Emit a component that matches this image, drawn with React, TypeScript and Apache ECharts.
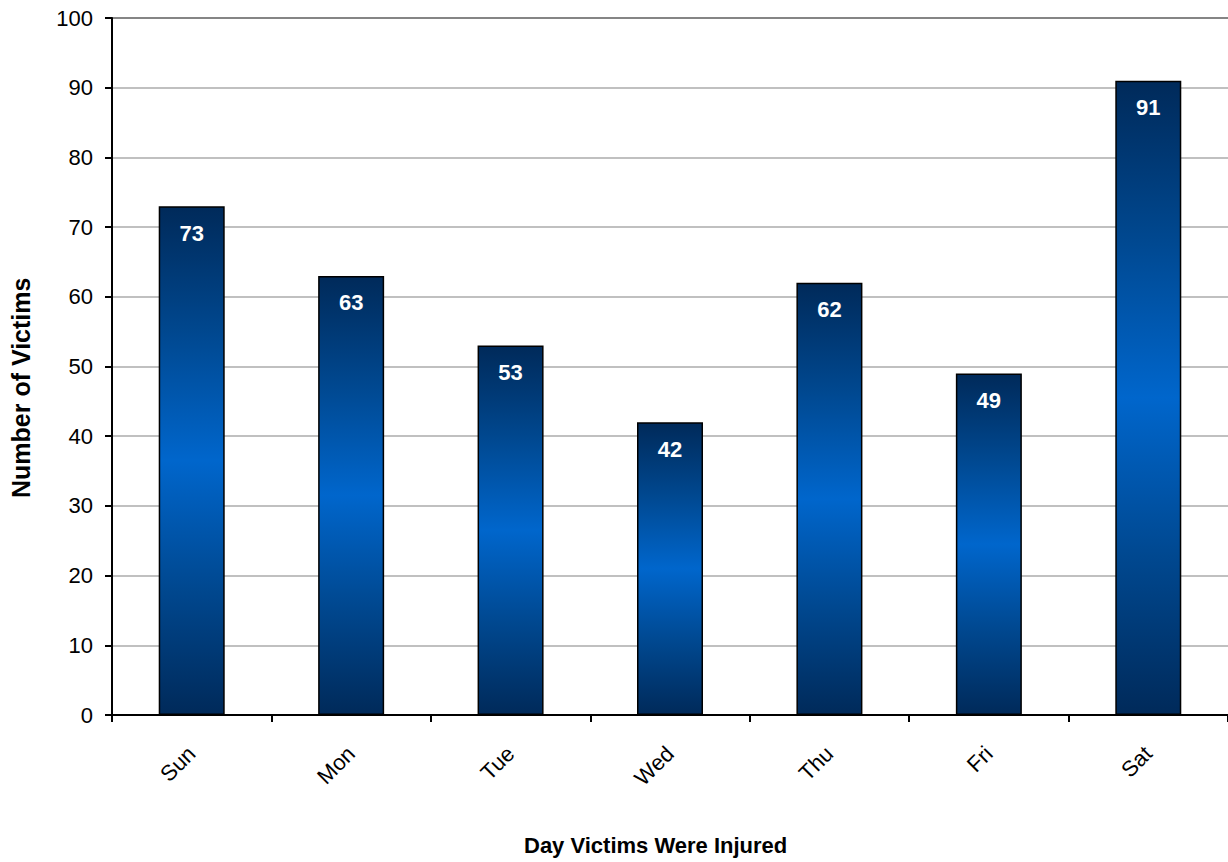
import React, { useEffect, useRef } from "react";
import * as echarts from "echarts";

const categories = ["Sun", "Mon", "Tue", "Wed", "Thu", "Fri", "Sat"];
const victims = [73, 63, 53, 42, 62, 49, 91];
const yTicks = { min: 0, max: 100, interval: 10 };
const xTitle = "Day Victims Were Injured";
const yTitle = "Number of Victims";

const FONT = "'Liberation Sans', Arial, sans-serif";

export default function App() {
  const ref = useRef<HTMLDivElement>(null);
  useEffect(() => {
    if (!ref.current) return;
    const chart = echarts.init(ref.current, null, { renderer: "svg" });
    const gradient = new echarts.graphic.LinearGradient(0, 0, 0, 1, [
      { offset: 0, color: "#002a5a" },
      { offset: 0.25, color: "#004890" },
      { offset: 0.5, color: "#0066cc" },
      { offset: 0.75, color: "#004890" },
      { offset: 1, color: "#002a5a" },
    ]);
    const splitColors = [
      "#c0c0c0", "#c0c0c0", "#c0c0c0", "#c0c0c0", "#c0c0c0", "#c0c0c0",
      "#c0c0c0", "#c0c0c0", "#c0c0c0", "#c0c0c0", "#858585",
    ];
    chart.setOption({
      animation: false,
      backgroundColor: "#ffffff",
      textStyle: { fontFamily: FONT },
      grid: { left: 112, right: 0, top: 18, bottom: 147, containLabel: false },
      graphic: [
        {
          type: "text",
          left: 524,
          top: 834,
          style: { text: xTitle, fontSize: 22, fontWeight: "bold", fill: "#000", fontFamily: FONT },
        },
        {
          type: "text",
          x: 8,
          y: 498,
          rotation: Math.PI / 2,
          style: {
            text: yTitle,
            fontSize: 25,
            fontWeight: "bold",
            fill: "#000",
            fontFamily: FONT,
            align: "left",
            verticalAlign: "top",
          },
        },
      ],
      xAxis: {
        type: "category",
        data: categories,
        boundaryGap: true,
        axisLine: { lineStyle: { color: "#000", width: 2 } },
        axisTick: { show: true, alignWithLabel: false, length: 7, lineStyle: { color: "#000", width: 2 } },
        axisLabel: { rotate: 45, color: "#000", fontSize: 22, fontFamily: FONT, margin: 35 },
      },
      yAxis: {
        type: "value",
        min: yTicks.min,
        max: yTicks.max,
        interval: yTicks.interval,
        axisLine: { show: true, lineStyle: { color: "#000", width: 2 } },
        axisTick: { show: true, length: 7, lineStyle: { color: "#000", width: 2 } },
        axisLabel: { color: "#000", fontSize: 22, fontFamily: FONT, margin: 19 },
        splitLine: { show: true, lineStyle: { color: splitColors, width: 2 } },
      },
      series: [
        {
          type: "bar",
          data: victims,
          barWidth: 66,
          itemStyle: { color: gradient, borderColor: "#000", borderWidth: 1.5 },
          label: {
            show: true,
            position: "insideTop",
            distance: 16,
            color: "#fff",
            fontSize: 22,
            fontWeight: "bold",
            fontFamily: FONT,
          },
        },
      ],
    });
    return () => chart.dispose();
  }, []);
  return <div ref={ref} style={{ width: 1228, height: 862, position: "absolute", left: 0, top: 0 }} />;
}
